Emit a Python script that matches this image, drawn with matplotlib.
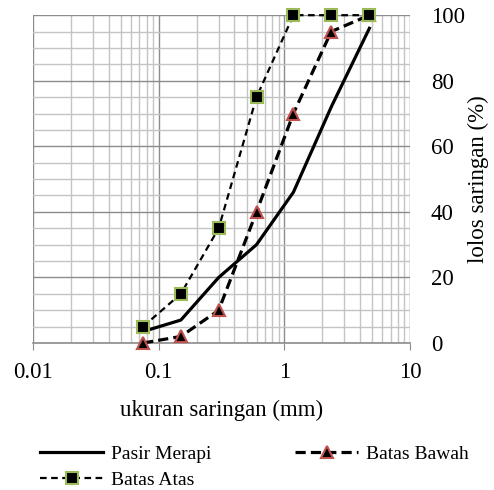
import matplotlib
matplotlib.use("Agg")
import matplotlib.pyplot as plt
from matplotlib.ticker import FixedLocator, NullFormatter, LogLocator

plt.rcParams['font.family'] = ['Liberation Serif', 'DejaVu Serif']

sizes = [0.075, 0.15, 0.3, 0.6, 1.18, 2.36, 4.75]
pasir_merapi = [3.5, 7, 20, 30, 46, 72, 96]
batas_bawah = [0, 2, 10, 40, 70, 95, 100]
batas_atas = [5, 15, 35, 75, 100, 100, 100]
x_ticks = [0.01, 0.1, 1, 10]
x_tick_labels = ['0.01', '0.1', '1', '10']
y_ticks = [0, 20, 40, 60, 80, 100]

fig = plt.figure(figsize=(4.94, 4.90), dpi=100)
ax = fig.add_axes([0.067, 0.30, 0.763, 0.669])
ax.set_xscale('log')
ax.set_xlim(0.01, 10)
ax.set_ylim(0, 100)

l1, = ax.plot(sizes, pasir_merapi, color='black', lw=2.3, label='Pasir Merapi', zorder=3)
l2, = ax.plot(sizes, batas_bawah, color='black', lw=2.3, ls=(0, (3.2, 1.6)), marker='^',
        markersize=8.5, markerfacecolor='black', markeredgecolor='#C0504D',
        markeredgewidth=1.5, label='Batas Bawah', zorder=4, clip_on=False)
l3, = ax.plot(sizes, batas_atas, color='black', lw=1.6, ls=(0, (3, 2)), marker='s',
        markersize=8, markerfacecolor='black', markeredgecolor='#9BBB59',
        markeredgewidth=1.5, label='Batas Atas', zorder=5, clip_on=False)

# grid
ax.xaxis.set_major_locator(FixedLocator(x_ticks))
ax.set_xticklabels(x_tick_labels)
ax.xaxis.set_minor_locator(LogLocator(base=10, subs=range(2, 10)))
ax.xaxis.set_minor_formatter(NullFormatter())
ax.yaxis.set_major_locator(FixedLocator(y_ticks))
ax.yaxis.set_minor_locator(FixedLocator(list(range(0, 101, 5))))
ax.grid(True, which='major', color='#8C8C8C', lw=1.0, zorder=0)
ax.grid(True, which='minor', color='#C4C4C4', lw=1.0, zorder=0)
ax.set_axisbelow(True)

for s in ['top', 'right', 'left']:
    ax.spines[s].set_visible(False)
ax.spines['bottom'].set_color('#8C8C8C')
ax.spines['bottom'].set_linewidth(1.2)

ax.yaxis.tick_right()
ax.yaxis.set_label_position('right')
ax.tick_params(axis='y', which='both', length=0, labelsize=16.5, pad=15)
ax.tick_params(axis='x', which='major', length=5, color='#8C8C8C', labelsize=16.5, pad=9)
ax.tick_params(axis='x', which='minor', length=0)

ax.set_xlabel('ukuran saringan (mm)', fontsize=16.5, labelpad=12)
ax.set_ylabel('lolos saringan (%)', fontsize=16.5, labelpad=2)

fig.legend([l1, l3, l2], ['Pasir Merapi', 'Batas Atas', 'Batas Bawah'],
           loc='upper left', bbox_to_anchor=(0.081, 0.092),
           ncol=2, frameon=False, fontsize=14, handlelength=3.25,
           columnspacing=4.3, handletextpad=0.4, labelspacing=0.45,
           borderpad=0, borderaxespad=0)

fig.savefig('out.png', dpi=100)
